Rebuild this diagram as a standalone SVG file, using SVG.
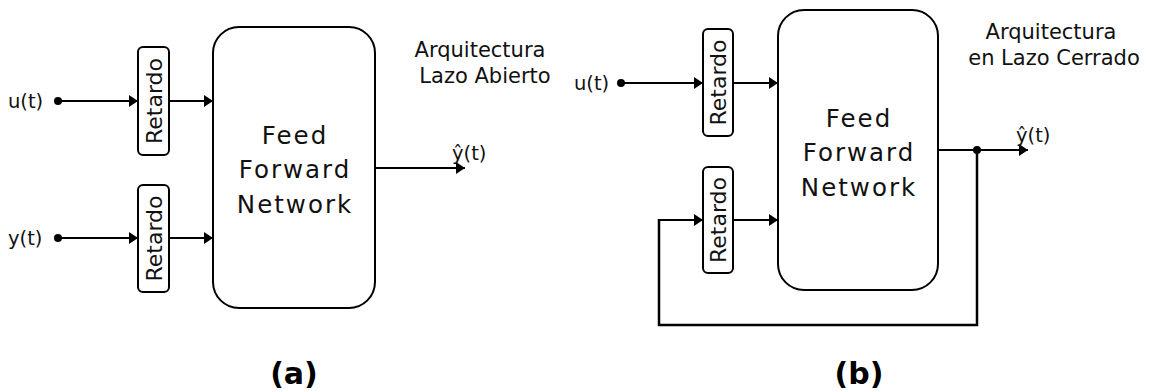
<svg xmlns="http://www.w3.org/2000/svg" width="1151" height="391" viewBox="0 0 1151 391">
<defs>
<style>
.box{fill:#fff;stroke:#000;stroke-width:2}
.ln{fill:none;stroke:#000;stroke-width:2}
.t{font-family:"DejaVu Sans",sans-serif;fill:#111}
.main{font-size:24.5px;letter-spacing:2px;text-anchor:middle}
.ret{font-size:22px;text-anchor:middle;dominant-baseline:central}
.sig{font-size:19.5px}
.cap{font-size:21px;text-anchor:middle}
.lbl{font-family:"DejaVu Sans",sans-serif;font-weight:bold;font-size:30px;text-anchor:middle;fill:#000}
</style>
<marker id="ah" viewBox="0 0 9 12" refX="9" refY="6" markerWidth="9" markerHeight="12" markerUnits="userSpaceOnUse" orient="auto">
<path d="M0,0 L9,6 L0,12 Z" fill="#000"/>
</marker>
</defs>
<rect width="1151" height="391" fill="#fff"/>

<g id="connectors">
<!-- (a) -->
<line class="ln" x1="58" y1="101" x2="138" y2="101" marker-end="url(#ah)"/>
<line class="ln" x1="169" y1="101" x2="213" y2="101" marker-end="url(#ah)"/>
<line class="ln" x1="58" y1="238" x2="138" y2="238" marker-end="url(#ah)"/>
<line class="ln" x1="169" y1="238" x2="213" y2="238" marker-end="url(#ah)"/>
<line class="ln" x1="375" y1="168" x2="465" y2="168" marker-end="url(#ah)"/>
<circle cx="58" cy="101" r="4" fill="#000"/>
<circle cx="58" cy="238" r="4" fill="#000"/>
<!-- (b) -->
<line class="ln" x1="621" y1="83" x2="703" y2="83" marker-end="url(#ah)"/>
<line class="ln" x1="733" y1="83" x2="778" y2="83" marker-end="url(#ah)"/>
<line class="ln" x1="659" y1="220" x2="703" y2="220" marker-end="url(#ah)"/>
<line class="ln" x1="733" y1="220" x2="778" y2="220" marker-end="url(#ah)"/>
<line class="ln" x1="938" y1="150" x2="1028" y2="150" marker-end="url(#ah)"/>
<polyline class="ln" points="977,150 977,325 659,325 659,219" style="stroke-width:2.5"/>
<circle cx="621" cy="83" r="4" fill="#000"/>
<circle cx="977" cy="150" r="4" fill="#000"/>
</g>

<g id="ffn-a">
<rect class="box" x="213" y="27" width="162" height="281" rx="26"/>
<text class="t main" x="295" y="144">Feed</text>
<text class="t main" x="295" y="178">Forward</text>
<text class="t main" x="295" y="213">Network</text>
</g>
<g id="ret-a1">
<rect class="box" x="138" y="47" width="31" height="108" rx="5"/>
<text class="t ret" transform="translate(154,101) rotate(-90)">Retardo</text>
</g>
<g id="ret-a2">
<rect class="box" x="138" y="185" width="31" height="107" rx="5"/>
<text class="t ret" transform="translate(154,238.5) rotate(-90)">Retardo</text>
</g>
<g id="labels-a">
<text class="t sig" x="8" y="108">u(t)</text>
<text class="t sig" x="8" y="245">y(t)</text>
<text class="t sig" x="452" y="160">ŷ(t)</text>
<text class="t cap" x="480" y="57">Arquitectura</text>
<text class="t cap" x="485" y="83">Lazo Abierto</text>
<text class="lbl" x="294" y="384">(a)</text>
</g>

<g id="ffn-b">
<rect class="box" x="778" y="10" width="160" height="280" rx="26"/>
<text class="t main" x="859" y="127">Feed</text>
<text class="t main" x="859" y="161">Forward</text>
<text class="t main" x="859" y="196">Network</text>
</g>
<g id="ret-b1">
<rect class="box" x="703" y="29" width="30" height="107" rx="5"/>
<text class="t ret" transform="translate(718,82.5) rotate(-90)">Retardo</text>
</g>
<g id="ret-b2">
<rect class="box" x="703" y="167" width="30" height="106" rx="5"/>
<text class="t ret" transform="translate(718,220) rotate(-90)">Retardo</text>
</g>
<g id="labels-b">
<text class="t sig" x="574" y="90">u(t)</text>
<text class="t sig" x="1016" y="142">ŷ(t)</text>
<text class="t cap" x="1051" y="39">Arquitectura</text>
<text class="t cap" x="1054" y="65">en Lazo Cerrado</text>
<text class="lbl" x="859" y="384">(b)</text>
</g>
</svg>
